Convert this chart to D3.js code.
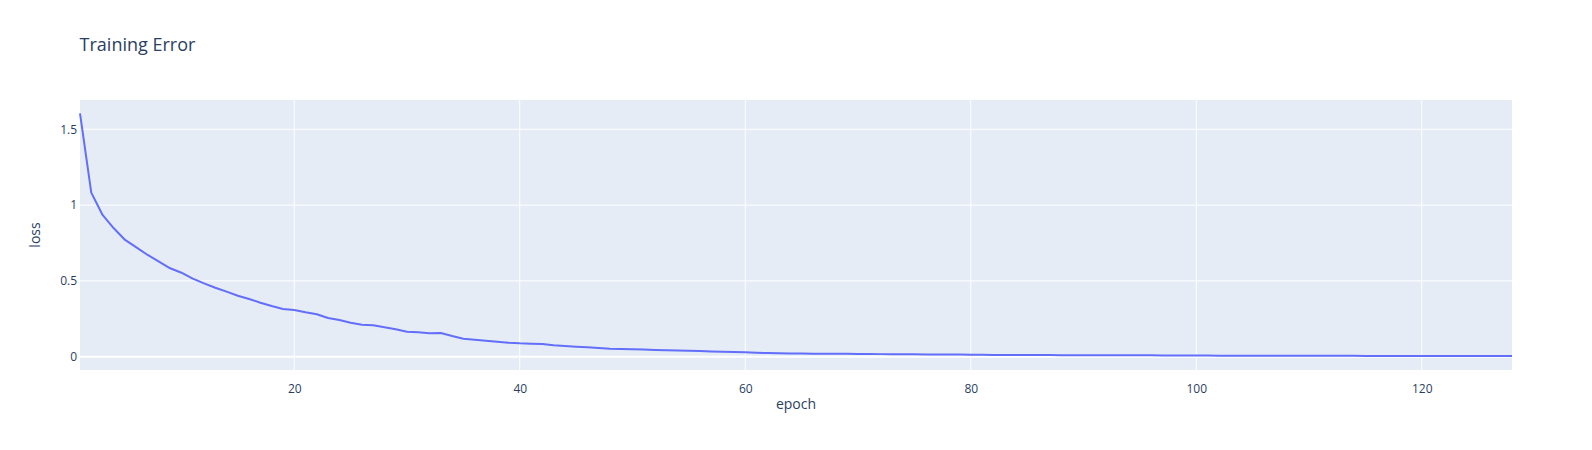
<!DOCTYPE html>
<html>
<head>
<meta charset="utf-8">
<script src="https://cdn.jsdelivr.net/npm/d3@7"></script>
<style>
  html, body { margin: 0; padding: 0; background: #fff; }
  svg text { font-family: "Open Sans", verdana, arial, sans-serif; }
</style>
</head>
<body>
<div id="plot"></div>
<script>
// Loss per epoch
const epochs = d3.range(1, 129);
const loss = [
  1.605, 1.082, 0.935, 0.847, 0.770, 0.721, 0.671, 0.627, 0.583, 0.554,
  0.515, 0.484, 0.455, 0.429, 0.402, 0.381, 0.356, 0.334, 0.315, 0.308,
  0.293, 0.280, 0.255, 0.242, 0.224, 0.211, 0.207, 0.194, 0.181, 0.165,
  0.161, 0.154, 0.156, 0.136, 0.119, 0.112, 0.106, 0.099, 0.092, 0.088,
  0.086, 0.084, 0.075, 0.071, 0.066, 0.062, 0.057, 0.053, 0.051, 0.049,
  0.047, 0.045, 0.043, 0.041, 0.039, 0.037, 0.035, 0.033, 0.031, 0.029,
  0.026, 0.024, 0.022, 0.021, 0.021, 0.020, 0.020, 0.019, 0.019, 0.018,
  0.018, 0.017, 0.017, 0.016, 0.016, 0.015, 0.015, 0.014, 0.014, 0.013,
  0.013, 0.012, 0.012, 0.012, 0.011, 0.011, 0.011, 0.010, 0.010, 0.010,
  0.010, 0.009, 0.009, 0.009, 0.009, 0.009, 0.008, 0.008, 0.008, 0.008,
  0.008, 0.007, 0.007, 0.007, 0.007, 0.007, 0.007, 0.006, 0.006, 0.006,
  0.006, 0.006, 0.006, 0.006, 0.005, 0.005, 0.005, 0.005, 0.005, 0.005,
  0.005, 0.005, 0.004, 0.004, 0.004, 0.004, 0.004, 0.004
];
const xTicks = [20, 40, 60, 80, 100, 120];
const yTicks = [0, 0.5, 1, 1.5];
const yTickLabels = ['0', '0.5', '1', '1.5'];

const W = 1592, H = 450;
const margin = { top: 100, right: 80, bottom: 80, left: 80 };
const width = W - margin.left - margin.right;
const height = H - margin.top - margin.bottom;

const svg = d3.select('#plot').append('svg')
  .attr('width', W)
  .attr('height', H);

const g = svg.append('g').attr('transform', `translate(${margin.left},${margin.top})`);

const x = d3.scaleLinear().domain([1, 128]).range([0, width]);
const y = d3.scaleLinear().domain([-0.0877, 1.693]).range([height, 0]);

g.append('rect')
  .attr('width', width)
  .attr('height', height)
  .attr('fill', '#E5ECF6');

// grid
g.append('g').selectAll('line')
  .data(xTicks)
  .enter().append('line')
  .attr('x1', d => x(d)).attr('x2', d => x(d))
  .attr('y1', 0).attr('y2', height)
  .attr('stroke', '#fff').attr('stroke-width', 1);

g.append('g').selectAll('line')
  .data(yTicks.filter(d => d !== 0))
  .enter().append('line')
  .attr('x1', 0).attr('x2', width)
  .attr('y1', d => y(d)).attr('y2', d => y(d))
  .attr('stroke', '#fff').attr('stroke-width', 1);

// zero line
g.append('line')
  .attr('x1', 0).attr('x2', width)
  .attr('y1', y(0)).attr('y2', y(0))
  .attr('stroke', '#fff').attr('stroke-width', 2);

// axes (labels only, like plotly)
const xAxis = g.append('g')
  .attr('transform', `translate(0,${height})`)
  .call(d3.axisBottom(x).tickValues(xTicks).tickSize(0).tickPadding(14));
xAxis.select('.domain').remove();
xAxis.selectAll('text')
  .attr('font-size', 12).attr('fill', '#2a3f5f')
  .attr('font-family', '"Open Sans", verdana, arial, sans-serif');

const yAxis = g.append('g')
  .call(d3.axisLeft(y).tickValues(yTicks).tickSize(0).tickPadding(3)
    .tickFormat((d, i) => yTickLabels[i]));
yAxis.select('.domain').remove();
yAxis.selectAll('text')
  .attr('font-size', 12).attr('fill', '#2a3f5f')
  .attr('font-family', '"Open Sans", verdana, arial, sans-serif');

// line
const line = d3.line()
  .x((d, i) => x(epochs[i]))
  .y(d => y(d));

g.append('path')
  .datum(loss)
  .attr('fill', 'none')
  .attr('stroke', '#636efa')
  .attr('stroke-width', 2)
  .attr('stroke-linejoin', 'round')
  .attr('d', line);

// titles
svg.append('text')
  .attr('x', 79.6)
  .attr('y', 45)
  .attr('dy', '0.35em')
  .attr('font-size', 18)
  .attr('fill', '#2a3f5f')
  .text('Training Error');

svg.append('text')
  .attr('x', margin.left + width / 2)
  .attr('y', 404)
  .attr('dy', '0.35em')
  .attr('text-anchor', 'middle')
  .attr('font-size', 14)
  .attr('fill', '#2a3f5f')
  .text('epoch');

svg.append('text')
  .attr('transform', `translate(35,${margin.top + height / 2}) rotate(-90)`)
  .attr('dy', '0.35em')
  .attr('text-anchor', 'middle')
  .attr('font-size', 14)
  .attr('fill', '#2a3f5f')
  .text('loss');
</script>
</body>
</html>
